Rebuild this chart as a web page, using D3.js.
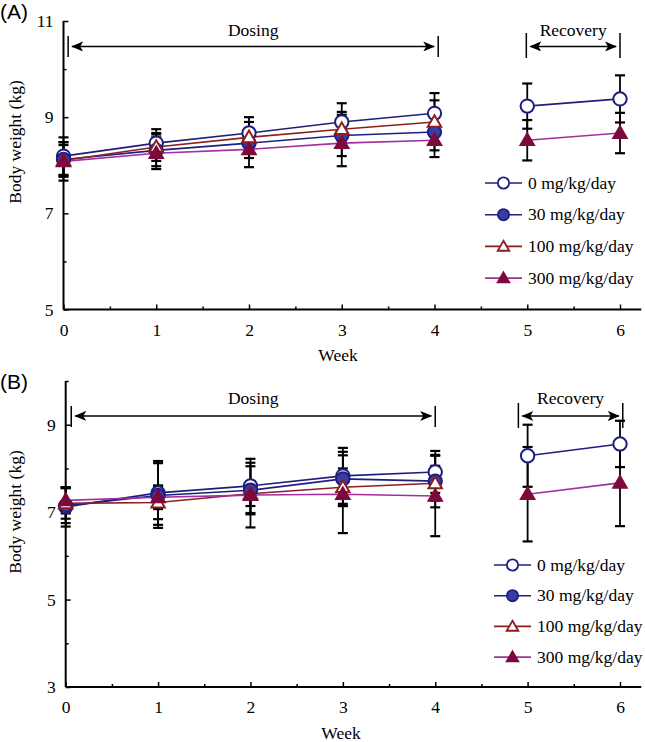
<!DOCTYPE html>
<html><head><meta charset="utf-8">
<script src="https://cdn.jsdelivr.net/npm/d3@7"></script>
<style>
html,body{margin:0;padding:0;background:#fff;}
svg text.serif{font-family:"Liberation Serif","Times New Roman",Times,serif;}
svg text.sans{font-family:"Liberation Sans",Arial,sans-serif;}
</style>
</head><body>
<svg id="c" width="645" height="742"></svg>
<script>
// ---------- data ----------
const weeks = [0, 1, 2, 3, 4, 5, 6];
const period = ["d", "d", "d", "d", "d", "r", "r"];
const seriesNames = ["0 mg/kg/day", "30 mg/kg/day", "100 mg/kg/day", "300 mg/kg/day"];

// Panel A (mean, SD)
const A_0mg   = [8.19, 8.46, 8.67, 8.90, 9.08, 9.23, 9.38];
const A_0sd   = [0.39, 0.29, 0.33, 0.39, 0.42, 0.47, 0.49];
const A_30mg  = [8.12, 8.31, 8.46, 8.62, 8.69];
const A_30sd  = [0.36, 0.33, 0.31, 0.43, 0.38];
const A_100mg = [8.10, 8.38, 8.58, 8.75, 8.90];
const A_100sd = [0.32, 0.29, 0.32, 0.36, 0.45];
const A_300mg = [8.08, 8.25, 8.33, 8.46, 8.52, 8.52, 8.67];
const A_300sd = [0.40, 0.33, 0.37, 0.48, 0.35, 0.42, 0.42];

// Panel B (mean, SD)
const B_0mg   = [7.12, 7.44, 7.60, 7.83, 7.92, 8.29, 8.56];
const B_0sd   = [0.45, 0.73, 0.62, 0.64, 0.48, 0.71, 0.53];
const B_30mg  = [7.15, 7.38, 7.50, 7.76, 7.71];
const B_30sd  = [0.40, 0.74, 0.55, 0.62, 0.60];
const B_100mg = [7.20, 7.22, 7.42, 7.57, 7.66];
const B_100sd = [0.35, 0.38, 0.28, 0.43, 0.40];
const B_300mg = [7.27, 7.34, 7.39, 7.41, 7.37, 7.41, 7.67];
const B_300sd = [0.30, 0.27, 0.74, 0.89, 0.92, 1.08, 0.99];

const A_yTicks = [5, 7, 9, 11];
const B_yTicks = [3, 5, 7, 9];
const xTicks = [0, 1, 2, 3, 4, 5, 6];

// ---------- styles ----------
const styles = [
  {line: "#1e1e7e", stroke: "#1e1e7e", fill: "#ffffff", shape: "circle"},
  {line: "#1e1e7e", stroke: "#1e1e7e", fill: "#3b3ba6", shape: "circle"},
  {line: "#8c1f1f", stroke: "#8c1f1f", fill: "#ffffff", shape: "triangle"},
  {line: "#a0309f", stroke: "#7d0a3c", fill: "#7d0a3c", shape: "triangle"}
];
const FS = 17.5;

const svg = d3.select("#c");
svg.append("rect").attr("width", 645).attr("height", 742).attr("fill", "#fff");

const defs = svg.append("defs");
defs.append("marker").attr("id", "ah").attr("viewBox", "0 0 12 10")
  .attr("refX", 11).attr("refY", 5).attr("markerWidth", 12).attr("markerHeight", 10)
  .attr("markerUnits", "userSpaceOnUse").attr("orient", "auto-start-reverse")
  .append("path").attr("d", "M0,0 L12,5 L0,10 L3,5 Z").attr("fill", "#000");

function symbolPath(shape) {
  return d3.symbol().type(shape === "circle" ? d3.symbolCircle : d3.symbolTriangle)
    .size(shape === "circle" ? 140 : 78)();
}

function serifText(sel) {
  return sel.attr("class", "serif").attr("font-family", null).style("font-size", FS + "px").attr("fill", "#000");
}

function panel(cfg) {
  const g = svg.append("g");
  const x = d3.scaleLinear().domain([0, 6.23]).range([cfg.x0, cfg.x0 + (cfg.x6 - cfg.x0) * 6.23 / 6]);
  const y = d3.scaleLinear().domain(cfg.yDomain).range([cfg.yBottom, cfg.yTop]);

  // axes
  const yAxis = d3.axisLeft(y).tickValues(cfg.yTicks).tickSize(-5).tickPadding(10).tickFormat(d3.format("d"));
  const yMinor = d3.axisLeft(y).tickValues(cfg.yMinor).tickSize(-3).tickFormat("");
  const xAxis = d3.axisBottom(x).tickValues(xTicks).tickSize(-5).tickPadding(14).tickFormat(d3.format("d"));
  const xMinor = d3.axisBottom(x).tickValues([0.5, 1.5, 2.5, 3.5, 4.5, 5.5]).tickSize(-3).tickFormat("");

  const gy = g.append("g").attr("transform", `translate(${cfg.x0},0)`).call(yAxis);
  g.append("g").attr("transform", `translate(${cfg.x0},0)`).call(yMinor).select(".domain").remove();
  const gx = g.append("g").attr("transform", `translate(0,${cfg.yBottom})`).call(xAxis);
  g.append("g").attr("transform", `translate(0,${cfg.yBottom})`).call(xMinor).select(".domain").remove();
  g.selectAll("g").attr("font-family", null).attr("font-size", null);
  [gy, gx].forEach(a => {
    a.select(".domain").attr("stroke-width", 2).attr("stroke", "#000");
    serifText(a.selectAll(".tick text"));
  });
  gy.select(".domain").attr("d", `M0,${cfg.yBottom}V${cfg.yTop}`);
  gx.select(".domain").attr("d", `M${cfg.x0},0H${x(6.23)}`);
  g.selectAll(".tick line").attr("stroke", "#000").attr("stroke-width", 1.5);
  gx.selectAll(".tick text").attr("dy", "0.71em");

  // axis titles
  serifText(g.append("text")).attr("transform", `translate(${cfg.ylabX},${cfg.ylabY}) rotate(-90)`)
    .attr("text-anchor", "middle").text("Body weight (kg)");
  serifText(g.append("text")).attr("x", cfg.weekX).attr("y", cfg.weekY).attr("text-anchor", "middle").text("Week");
  g.append("text").attr("class", "sans").attr("x", 0).attr("y", cfg.tagY)
    .style("font-size", "21px").text(cfg.tag);

  // period annotations
  function bracket(a, b, yv, label, barTop, barBot, textY) {
    const yy = y(yv);
    g.append("line").attr("x1", x(a)).attr("x2", x(a)).attr("y1", barTop).attr("y2", barBot)
      .attr("stroke", "#000").attr("stroke-width", 1.5);
    g.append("line").attr("x1", x(b)).attr("x2", x(b)).attr("y1", barTop).attr("y2", barBot)
      .attr("stroke", "#000").attr("stroke-width", 1.5);
    g.append("line").attr("x1", x(a) + 4).attr("x2", x(b) - 4).attr("y1", yy).attr("y2", yy)
      .attr("stroke", "#000").attr("stroke-width", 1.5)
      .attr("marker-start", "url(#ah)").attr("marker-end", "url(#ah)");
    serifText(g.append("text")).attr("x", (x(a) + x(b)) / 2).attr("y", textY).attr("text-anchor", "middle").text(label);
  }
  bracket(cfg.dosing[0], cfg.dosing[1], cfg.arrowY, "Dosing", cfg.barTop, cfg.barBot, cfg.textY);
  bracket(cfg.recovery[0], cfg.recovery[1], cfg.arrowY, "Recovery", cfg.barTop - 3, cfg.barBot + 1, cfg.textY);

  // data
  const all = cfg.series.map((s, i) => s.mean.map((m, j) => ({
    w: weeks[j], p: period[j], m: m, sd: s.sd[j], i: i
  })));

  // error bars
  all.forEach(pts => {
    const eb = g.append("g").attr("stroke", "#000").attr("stroke-width", 1.8);
    pts.forEach(d => {
      const cx = x(d.w);
      eb.append("line").attr("x1", cx).attr("x2", cx).attr("y1", y(d.m - d.sd)).attr("y2", y(d.m + d.sd));
      [d.m - d.sd, d.m + d.sd].forEach(v => {
        eb.append("line").attr("x1", cx - 5).attr("x2", cx + 5).attr("y1", y(v)).attr("y2", y(v)).attr("stroke-width", 2.2);
      });
    });
  });

  // lines
  const lineGen = d3.line().x(d => x(d.w)).y(d => y(d.m));
  all.forEach((pts, i) => {
    d3.groups(pts, d => d.p).forEach(([, seg]) => {
      g.append("path").attr("d", lineGen(seg)).attr("fill", "none")
        .attr("stroke", styles[i].line).attr("stroke-width", 1.6);
    });
  });

  // markers
  all.forEach((pts, i) => {
    const st = styles[i];
    g.selectAll(null).data(pts).join("path")
      .attr("d", symbolPath(st.shape))
      .attr("transform", d => `translate(${x(d.w)},${y(d.m) + (st.shape === "triangle" ? 1 : 0)})`)
      .attr("fill", st.fill).attr("stroke", st.stroke).attr("stroke-width", 2);
  });

  // legend
  seriesNames.forEach((name, i) => {
    const st = styles[i];
    const ly = cfg.legY + i * cfg.legStep;
    g.append("line").attr("x1", cfg.legX).attr("x2", cfg.legX + 37).attr("y1", ly).attr("y2", ly)
      .attr("stroke", st.line).attr("stroke-width", 1.6);
    g.append("path").attr("d", d3.symbol().type(st.shape === "circle" ? d3.symbolCircle : d3.symbolTriangle)
        .size(st.shape === "circle" ? 100 : 58)())
      .attr("transform", `translate(${cfg.legX + 18.5},${ly + (st.shape === "triangle" ? 1 : 0)})`)
      .attr("fill", st.fill).attr("stroke", st.stroke).attr("stroke-width", 1.8);
    serifText(g.append("text")).attr("x", cfg.legX + 43).attr("y", ly).attr("dy", "0.33em").text(name);
  });
}

panel({
  tag: "(A)", tagY: 19,
  x0: 63.5, x6: 620, yBottom: 309.5, yTop: 21, yDomain: [5, 11],
  yTicks: A_yTicks, yMinor: [6, 8, 10],
  ylabX: 21, ylabY: 142, weekX: 338, weekY: 361,
  dosing: [0.05, 4.04], recovery: [4.99, 6.0], arrowY: 10.47,
  barTop: 36, barBot: 57, textY: 36,
  legX: 485, legY: 183, legStep: 31.7,
  series: [
    {mean: A_0mg, sd: A_0sd}, {mean: A_30mg, sd: A_30sd},
    {mean: A_100mg, sd: A_100sd}, {mean: A_300mg, sd: A_300sd}
  ]
});

panel({
  tag: "(B)", tagY: 389,
  x0: 65.7, x6: 620, yBottom: 687, yTop: 381, yDomain: [3, 10],
  yTicks: B_yTicks, yMinor: [4, 6, 8, 10],
  ylabX: 21, ylabY: 512, weekX: 341, weekY: 739,
  dosing: [0.06, 4.0], recovery: [4.9, 6.03], arrowY: 9.2,
  barTop: 406, barBot: 427, textY: 404,
  legX: 494, legY: 565, legStep: 30.7,
  series: [
    {mean: B_0mg, sd: B_0sd}, {mean: B_30mg, sd: B_30sd},
    {mean: B_100mg, sd: B_100sd}, {mean: B_300mg, sd: B_300sd}
  ]
});
</script>
</body></html>
